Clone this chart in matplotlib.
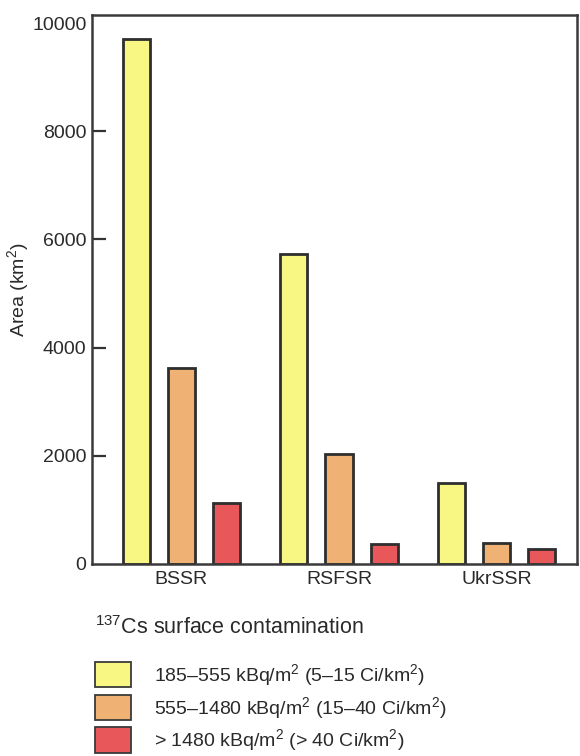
import numpy as np
import matplotlib
matplotlib.use('Agg')
import matplotlib.pyplot as plt
from matplotlib.patches import Patch

plt.rcParams['font.family'] = ['Liberation Sans', 'DejaVu Sans']
plt.rcParams['mathtext.fontset'] = 'custom'
plt.rcParams['mathtext.rm'] = 'Liberation Sans'
plt.rcParams['mathtext.default'] = 'regular'

# datos (km2)
regiones = ['BSSR', 'RSFSR', 'UkrSSR']
area_185_555 = [9700, 5730, 1500]
area_555_1480 = [3620, 2030, 380]
area_1480 = [1130, 370, 270]
etiquetas = ['185–555 kBq/m$^{2}$ (5–15 Ci/km$^{2}$)',
             '555–1480 kBq/m$^{2}$ (15–40 Ci/km$^{2}$)',
             '> 1480 kBq/m$^{2}$ (> 40 Ci/km$^{2}$)']
colores = ['#f9f784', '#f0b274', '#e8575a']
texto = '#2a2a2a'

fig = plt.figure(figsize=(5.8, 7.56), dpi=100)
ax = fig.add_axes([92/580, 1-564/756, (577-92)/580, (564-15)/756])

x = np.arange(len(regiones))
ancho = 0.172
sep = 0.287
series = [area_185_555, area_555_1480, area_1480]
for i, (vals, c) in enumerate(zip(series, colores)):
    ax.bar(x + (i-1)*sep, vals, width=ancho, color=c, edgecolor='#2e2e2e', linewidth=2, zorder=2)

ax.set_xlim(-0.567, 2.51)
ax.set_ylim(0, 10150)
ax.set_xticks(x)
ax.set_xticklabels(regiones, fontsize=14, color=texto)
ax.tick_params(axis='x', length=0, pad=5)
ax.set_yticks([0, 2000, 4000, 6000, 8000, 10000])
ax.tick_params(axis='y', direction='in', length=10, width=1.6, labelsize=14, labelcolor=texto,
               color='#333333', pad=4)
for t in [ax.yaxis.get_major_ticks()[0], ax.yaxis.get_major_ticks()[-1]]:
    t.tick1line.set_visible(False)
ax.set_ylabel('Area (km$^{2}$)', fontsize=14, color=texto)
ax.yaxis.set_label_coords(-0.125, 0.5)
for s in ax.spines.values():
    s.set_linewidth(1.8)
    s.set_color('#3a3a3a')

handles = [Patch(facecolor=c, edgecolor='#3a3a3a', linewidth=1.3) for c in colores]
leg = fig.legend(handles, etiquetas, loc='upper left', bbox_to_anchor=(79/580, 1-601/756),
                 frameon=False, fontsize=14, title='$^{137}$Cs surface contamination',
                 title_fontsize=15.5, alignment='left', handlelength=1.86, handleheight=1.65,
                 labelspacing=0.35, handletextpad=1.2, borderpad=0.3)
for t in leg.get_texts():
    t.set_color(texto)
leg.get_title().set_color(texto)
leg._legend_box.sep = 16

fig.savefig('out.png', dpi=100)
